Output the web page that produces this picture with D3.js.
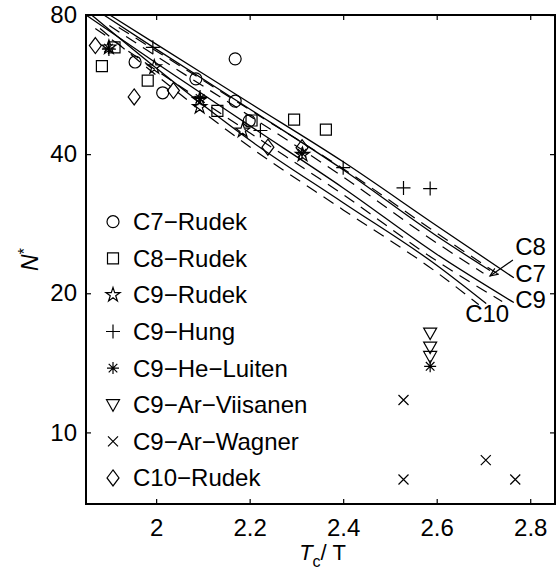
<!DOCTYPE html>
<html>
<head>
<meta charset="utf-8">
<script src="https://cdn.jsdelivr.net/npm/d3@7"></script>
<style>
  body { margin: 0; background: #fff; }
  text { font-family: "Liberation Sans", Arial, Helvetica, sans-serif; fill: #000; }
</style>
</head>
<body>
<svg id="chart" width="558" height="573"></svg>
<script>
// ---- model curves, N* against Tc/T (solid) ----
const c7LineX = [1.901, 2.0, 2.2, 2.4, 2.6, 2.765];
const c7LineN = [80, 69.2, 51.6, 38.5, 28.0, 21.6];
const c8LineX = [1.888, 2.0, 2.2, 2.4, 2.6, 2.714];
const c8LineN = [80, 67.5, 50.1, 37.0, 26.6, 22.4];
const c9LineX = [1.85, 2.0, 2.2, 2.4, 2.6, 2.765];
const c9LineN = [80, 63.0, 46.1, 33.8, 24.3, 19.1];
const c10LineX = [1.862, 2.0, 2.2, 2.4, 2.6, 2.706];
const c10LineN = [80, 61.4, 42.9, 31.4, 23.0, 19.0];

// ---- dashed companions ----
const c7DashX = [1.92, 2.0, 2.2, 2.4, 2.6, 2.74];
const c7DashN = [75.2, 66.9, 49.9, 37.2, 27.0, 21.7];
const c8DashX = [1.90, 2.0, 2.2, 2.4, 2.6, 2.70];
const c8DashN = [75.9, 65.2, 48.4, 35.7, 25.7, 22.1];
const c9DashX = [1.87, 2.0, 2.2, 2.4, 2.6, 2.74];
const c9DashN = [74.8, 60.8, 44.5, 32.7, 23.5, 19.2];
const c10DashX = [1.88, 2.0, 2.2, 2.4, 2.6, 2.69];
const c10DashN = [74.8, 59.3, 41.5, 30.3, 22.2, 18.9];

// ---- measurements ----
const c7RudekX = [1.955, 2.014, 2.085, 2.169, 2.169, 2.199];
const c7RudekN = [63.3, 54.3, 58.2, 64.3, 52.1, 47.2];
const c8RudekX = [1.884, 1.911, 1.982, 2.131, 2.204, 2.295, 2.363];
const c8RudekN = [62.0, 68.1, 57.7, 49.6, 47.3, 47.5, 45.2];
const c9RudekX = [1.899, 1.996, 2.093, 2.093, 2.185, 2.313];
const c9RudekN = [68.1, 61.7, 52.4, 50.6, 45.0, 39.9];
const c9HungX = [1.899, 1.993, 2.094, 2.223, 2.400, 2.529, 2.586];
const c9HungN = [67.5, 68.1, 53.2, 45.0, 37.4, 33.8, 33.7];
const c9HeLuitenX = [1.898, 2.094, 2.312, 2.586];
const c9HeLuitenN = [67.8, 52.8, 40.2, 13.9];
const c9ArViisanenX = [2.586, 2.586, 2.586];
const c9ArViisanenN = [16.4, 15.3, 14.6];
const c9ArWagnerX = [2.529, 2.529, 2.705, 2.768];
const c9ArWagnerN = [11.75, 7.91, 8.71, 7.91];
const c10RudekX = [1.870, 1.953, 2.037, 2.239, 2.312];
const c10RudekN = [68.7, 53.2, 54.9, 41.4, 41.3];

const xTicks = [2, 2.2, 2.4, 2.6, 2.8];
const yTicks = [10, 20, 40, 80];

// curve labels (data coords of text baseline)
const curveLabels = [
  { text: "C8", x: 2.768, n: 24.2, anchor: "start" },
  { text: "C7", x: 2.768, n: 21.2, anchor: "start" },
  { text: "C9", x: 2.768, n: 18.6, anchor: "start" },
  { text: "C10", x: 2.708, n: 17.3, anchor: "middle" }
];
const arrowFrom = [2.763, 23.6];
const arrowTo = [2.714, 21.8];

const width = 558, height = 573;
const margin = { top: 15, right: 3, bottom: 69, left: 86 };

const svg = d3.select("#chart");

const x = d3.scaleLinear().domain([1.85, 2.853]).range([margin.left, width - margin.right]);
const y = d3.scaleLog().domain([7.0, 80]).range([height - margin.bottom, margin.top]);

const zip = (xs, ns) => xs.map((v, i) => [v, ns[i]]);

// marker shapes, matlab style
function markerPath(type) {
  switch (type) {
    case "circle": { const r = 6; return `M${r},0A${r},${r} 0 1,1 ${-r},0A${r},${r} 0 1,1 ${r},0Z`; }
    case "square": { const s = 5.5; return `M${-s},${-s}H${s}V${s}H${-s}Z`; }
    case "pentagram": {
      const R = 7.5, r = R * 0.382;
      let p = "";
      for (let i = 0; i < 10; i++) {
        const a = -Math.PI / 2 + i * Math.PI / 5, rr = i % 2 ? r : R;
        p += (i ? "L" : "M") + (rr * Math.cos(a)).toFixed(2) + "," + (rr * Math.sin(a)).toFixed(2);
      }
      return p + "Z";
    }
    case "plus": { const s = 7; return `M${-s},0H${s}M0,${-s}V${s}`; }
    case "asterisk": {
      const s = 6, d = 4.3;
      return `M${-s},0H${s}M0,${-s}V${s}M${-d},${-d}L${d},${d}M${-d},${d}L${d},${-d}`;
    }
    case "triangle": return "M-6.5,-5L6.5,-5L0,6.5Z";
    case "x": { const s = 5; return `M${-s},${-s}L${s},${s}M${-s},${s}L${s},${-s}`; }
    case "diamond": return "M0,-8L6,0L0,8L-6,0Z";
  }
}

const series = [
  { label: "C7\u2212Rudek", type: "circle", xs: c7RudekX, ns: c7RudekN },
  { label: "C8\u2212Rudek", type: "square", xs: c8RudekX, ns: c8RudekN },
  { label: "C9\u2212Rudek", type: "pentagram", xs: c9RudekX, ns: c9RudekN },
  { label: "C9\u2212Hung", type: "plus", xs: c9HungX, ns: c9HungN },
  { label: "C9\u2212He\u2212Luiten", type: "asterisk", xs: c9HeLuitenX, ns: c9HeLuitenN },
  { label: "C9\u2212Ar\u2212Viisanen", type: "triangle", xs: c9ArViisanenX, ns: c9ArViisanenN },
  { label: "C9\u2212Ar\u2212Wagner", type: "x", xs: c9ArWagnerX, ns: c9ArWagnerN },
  { label: "C10\u2212Rudek", type: "diamond", xs: c10RudekX, ns: c10RudekN }
];

const solidLines = [zip(c7LineX, c7LineN), zip(c8LineX, c8LineN), zip(c9LineX, c9LineN), zip(c10LineX, c10LineN)];
const dashLines = [zip(c7DashX, c7DashN), zip(c8DashX, c8DashN), zip(c9DashX, c9DashN), zip(c10DashX, c10DashN)];

const line = d3.line()
  .x(d => x(d[0]))
  .y(d => y(d[1]))
  .curve(d3.curveMonotoneX);

const plot = svg.append("g");

plot.selectAll(".dash").data(dashLines).enter().append("path")
  .attr("d", line)
  .attr("fill", "none")
  .attr("stroke", "#000")
  .attr("stroke-width", 1.2)
  .attr("stroke-dasharray", "12,8");

plot.selectAll(".solid").data(solidLines).enter().append("path")
  .attr("d", line)
  .attr("fill", "none")
  .attr("stroke", "#000")
  .attr("stroke-width", 1.3);

// data markers
series.forEach(s => {
  plot.append("g").selectAll("path").data(zip(s.xs, s.ns)).enter().append("path")
    .attr("transform", d => "translate(" + x(d[0]) + "," + y(d[1]) + ")")
    .attr("d", markerPath(s.type))
    .attr("fill", "none")
    .attr("stroke", "#000")
    .attr("stroke-width", 1.2);
});

// curve labels + arrow
plot.selectAll(".clab").data(curveLabels).enter().append("text")
  .attr("x", d => x(d.x))
  .attr("y", d => y(d.n))
  .attr("text-anchor", d => d.anchor)
  .attr("font-size", 24)
  .text(d => d.text);

const ax0 = x(arrowFrom[0]), ay0 = y(arrowFrom[1]), ax1 = x(arrowTo[0]), ay1 = y(arrowTo[1]);
plot.append("line")
  .attr("x1", ax0).attr("y1", ay0).attr("x2", ax1).attr("y2", ay1)
  .attr("stroke", "#000").attr("stroke-width", 1.2);
const ang = Math.atan2(ay1 - ay0, ax1 - ax0);
const hl = 9, hw = 0.4;
plot.append("path")
  .attr("d", "M" + (ax1 - hl * Math.cos(ang - hw)) + "," + (ay1 - hl * Math.sin(ang - hw)) +
    "L" + ax1 + "," + ay1 +
    "L" + (ax1 - hl * Math.cos(ang + hw)) + "," + (ay1 - hl * Math.sin(ang + hw)))
  .attr("fill", "none").attr("stroke", "#000").attr("stroke-width", 1.2);

// axes, ticks pointing inward on all four sides
const bottom = height - margin.bottom, right = width - margin.right;

const xAxis = svg.append("g")
  .attr("transform", "translate(0," + bottom + ")")
  .call(d3.axisBottom(x).tickValues(xTicks).tickSizeInner(-5).tickSizeOuter(0).tickPadding(15).tickFormat(d3.format("")));
const xTop = svg.append("g")
  .attr("transform", "translate(0," + margin.top + ")")
  .call(d3.axisTop(x).tickValues(xTicks).tickSizeInner(-5).tickSizeOuter(0).tickFormat(""));
const yAxis = svg.append("g")
  .attr("transform", "translate(" + margin.left + ",0)")
  .call(d3.axisLeft(y).tickValues(yTicks).tickSizeInner(-5).tickSizeOuter(0).tickPadding(9).tickFormat(d3.format("d")));
const yRight = svg.append("g")
  .attr("transform", "translate(" + right + ",0)")
  .call(d3.axisRight(y).tickValues(yTicks).tickSizeInner(-5).tickSizeOuter(0).tickFormat(""));

[xAxis, xTop, yAxis, yRight].forEach(g => {
  g.select(".domain").remove();
  g.selectAll(".tick line").attr("stroke", "#000").attr("stroke-width", 1.2);
  g.selectAll(".tick text").attr("font-size", 24).attr("font-family", null).attr("fill", "#000");
});

svg.append("rect")
  .attr("x", margin.left).attr("y", margin.top)
  .attr("width", right - margin.left).attr("height", bottom - margin.top)
  .attr("fill", "none").attr("stroke", "#000").attr("stroke-width", 2);

// legend (no box)
const legend = svg.append("g");
const legY0 = 221.7, legStep = 36.6;
series.forEach((s, i) => {
  const ly = legY0 + i * legStep;
  legend.append("path")
    .attr("transform", "translate(113," + ly + ")")
    .attr("d", markerPath(s.type))
    .attr("fill", "none").attr("stroke", "#000").attr("stroke-width", 1.2);
  legend.append("text")
    .attr("x", 133).attr("y", ly + 8.5)
    .attr("font-size", 24)
    .text(s.label);
});

// axis titles
const xl = svg.append("text")
  .attr("x", (margin.left + right) / 2 + 2).attr("y", 560)
  .attr("text-anchor", "middle").attr("font-size", 22);
xl.append("tspan").attr("font-style", "italic").text("T");
xl.append("tspan").attr("font-size", 16).attr("dy", 7).text("c");
xl.append("tspan").attr("dy", -7).text("/ T");

const yl = svg.append("text")
  .attr("transform", "translate(38," + ((margin.top + bottom) / 2) + ") rotate(-90)")
  .attr("text-anchor", "middle").attr("font-size", 23);
yl.append("tspan").attr("font-style", "italic").text("N");
yl.append("tspan").attr("font-size", 16).attr("dy", -8).text("*");
</script>
</body>
</html>
